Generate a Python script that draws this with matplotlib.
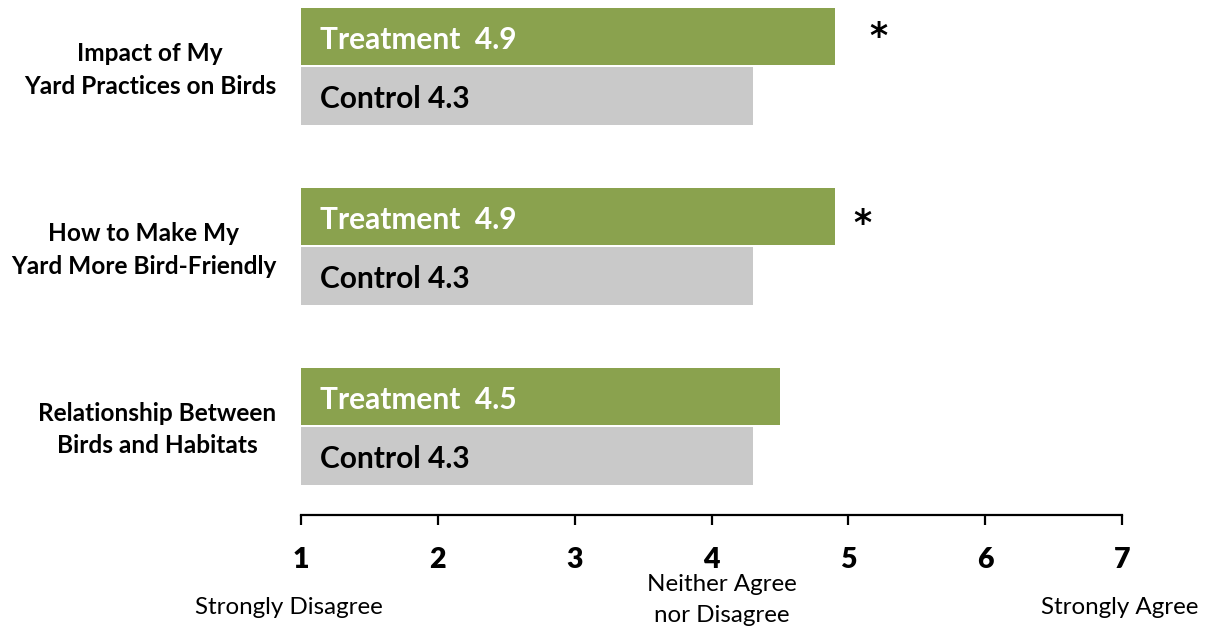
import matplotlib
matplotlib.use("Agg")
import matplotlib.pyplot as plt

# Survey items (top to bottom) and mean agreement scores
categories = [
    "Impact of My\nYard Practices on Birds",
    "How to Make My\nYard More Bird-Friendly",
    "Relationship Between\nBirds and Habitats",
]
treatment = [4.9, 4.9, 4.5]
control = [4.3, 4.3, 4.3]
significant = [True, True, False]

scale_ticks = [1, 2, 3, 4, 5, 6, 7]
anchor_labels = {1: "Strongly Disagree", 4: "Neither Agree\nnor Disagree", 7: "Strongly Agree"}

GREEN = "#8AA24E"
GREY = "#C9C9C9"
FONT = "Lato"

W, H = 1207, 629
fig = plt.figure(figsize=(W / 100, H / 100), dpi=100)
ax = fig.add_axes([301 / W, 1 - 515 / H, (1122 - 301) / W, 515 / H])

bar_h = 0.32
offset = 0.165
base = scale_ticks[0]
label_fs = 21.5
star_fs = 25
star_dx = [0.317, 0.20, 0.2]   # gap between bar end and significance marker
star_dy = [-0.045, -0.005, 0.0]

for i, (t, c) in enumerate(zip(treatment, control)):
    yt, yc = i - offset, i + offset
    ax.barh(yt, t - base, left=base, height=bar_h, color=GREEN, edgecolor="none")
    ax.barh(yc, c - base, left=base, height=bar_h, color=GREY, edgecolor="none")
    # baseline placed so the capitals sit centred on the bar
    cap_shift = -(0.36 * label_fs + 1.2)
    ax.annotate(f"Treatment  {t:.1f}", (base + 0.14, yt), xytext=(0, cap_shift),
                textcoords="offset points", color="white", fontsize=label_fs,
                fontweight="bold", family=FONT, va="baseline", ha="left")
    ax.annotate(f"Control {c:.1f}", (base + 0.14, yc), xytext=(0, cap_shift),
                textcoords="offset points", color="black", fontsize=label_fs,
                fontweight="bold", family=FONT, va="baseline", ha="left")
    if significant[i]:
        ax.annotate("*", (t + star_dx[i], yt + star_dy[i]), xytext=(0, -0.52 * star_fs),
                    textcoords="offset points", fontsize=star_fs, fontweight="bold",
                    family="DejaVu Sans", ha="center", va="baseline")
    ax.text(-0.03, i + 0.02, categories[i], transform=ax.get_yaxis_transform(),
            ha="right", va="center", multialignment="center", fontsize=17.6,
            fontweight="bold", family=FONT, linespacing=1.5)

ax.set_xlim(1, 7)
ax.set_ylim(2.494, -0.369)
ax.set_yticks([])
for side in ("top", "right", "left"):
    ax.spines[side].set_visible(False)
ax.spines["bottom"].set_linewidth(1.6)
ax.set_xticks(scale_ticks)
ax.set_xticklabels([str(v) for v in scale_ticks], fontsize=20.5, fontweight="heavy", family=FONT)
ax.tick_params(axis="x", direction="out", length=7, width=1.6, pad=16)

# scale anchor descriptions under the axis
anchor_pos = {1: (289, 607), 4: (722, 600), 7: (1120, 607)}
for v, lab in anchor_labels.items():
    px, py = anchor_pos[v]
    fig.text(px / W, 1 - py / H, lab, ha="center", va="center", multialignment="center",
             fontsize=17.4, family=FONT, linespacing=1.58)

fig.savefig("out.png", dpi=100)
